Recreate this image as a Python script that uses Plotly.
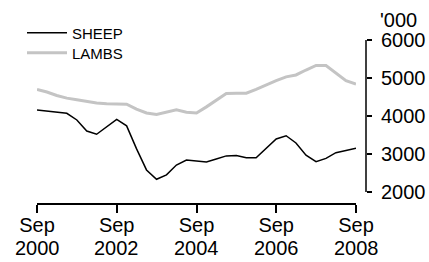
import plotly.graph_objects as go
import pandas as pd

# Quarterly dates, Sep 2000 .. Sep 2008
dates = pd.date_range("2000-09-01", "2008-09-01", freq="3MS")

sheep = [4160, 4130, 4105, 4070, 3895, 3605, 3520, 3710, 3910, 3740,
         3140, 2580, 2335, 2450, 2710, 2840, 2815, 2790, 2870, 2950,
         2960, 2900, 2900, 3150, 3395, 3480, 3290, 2970, 2800, 2885,
         3035, 3090, 3150]
lambs = [4700, 4630, 4540, 4470, 4430, 4380, 4340, 4320, 4310, 4310,
         4180, 4080, 4040, 4100, 4160, 4100, 4080, 4240, 4420, 4590,
         4600, 4600, 4700, 4820, 4930, 5030, 5080, 5210, 5330, 5330,
         5130, 4930, 4840]

tick_dates = ["2000-09-01", "2002-09-01", "2004-09-01", "2006-09-01", "2008-09-01"]
tick_month = ["Sep", "Sep", "Sep", "Sep", "Sep"]
tick_year = ["2000", "2002", "2004", "2006", "2008"]
y_ticks = [2000, 3000, 4000, 5000, 6000]
y_unit = "'000"

FONT = "Liberation Sans, Arial, sans-serif"

fig = go.Figure()
fig.add_trace(go.Scatter(x=dates, y=sheep, name="SHEEP", mode="lines",
                         line=dict(color="black", width=1.5), legend="legend"))
fig.add_trace(go.Scatter(x=dates, y=lambs, name="LAMBS", mode="lines",
                         line=dict(color="#c4c4c4", width=3), legend="legend2"))

L, R, T, B = 37, 63, 40, 59
W = 429 - L - R
H = 262 - T - B

def px_x(p):
    return (p - L) / W

def px_y(p):
    return (262 - B - p) / H

leg_common = dict(xanchor="left", yanchor="middle",
                  font=dict(size=15, family=FONT), bgcolor="rgba(0,0,0,0)",
                  borderwidth=0, itemwidth=40)

fig.update_layout(
    width=429, height=262,
    margin=dict(l=L, r=R, t=T, b=B, autoexpand=False),
    paper_bgcolor="white", plot_bgcolor="white",
    font=dict(family=FONT, color="black", size=20),
    showlegend=True,
    legend=dict(x=px_x(22), y=px_y(33), **leg_common),
    legend2=dict(x=px_x(22), y=px_y(53), **leg_common),
    xaxis=dict(domain=[0, 319 / W], range=[dates[0], dates[-1]],
               tickvals=tick_dates, ticktext=tick_month,
               showline=True, linecolor="black", linewidth=1.5,
               ticks="outside", ticklen=8, tickwidth=1.5, tickcolor="black",
               ticklabelstandoff=-5,
               showgrid=False, zeroline=False, automargin=False,
               tickfont=dict(size=20, family=FONT)),
    yaxis=dict(range=[1710, 6000], side="right", anchor="free", position=1,
               tickvals=y_ticks, ticks="outside", ticklen=5, tickwidth=1.5,
               tickcolor="black", showline=False, showgrid=False, zeroline=False,
               ticklabelstandoff=5,
               automargin=False, tickfont=dict(size=20, family=FONT)),
)
fig.add_shape(type="line", xref="paper", yref="y", x0=1, x1=1,
              y0=y_ticks[0], y1=y_ticks[-1], line=dict(color="black", width=1.5))
for d, yr in zip(tick_dates, tick_year):
    fig.add_annotation(text=yr, xref="x", yref="paper", x=d,
                       y=px_y(248), xanchor="center", yanchor="middle",
                       showarrow=False, font=dict(size=20, family=FONT))
fig.add_annotation(text=y_unit, xref="paper", yref="paper",
                   x=px_x(378), y=px_y(20), xanchor="left",
                   yanchor="middle", showarrow=False,
                   font=dict(size=20, family=FONT))

fig.write_html("out.html", config={"displayModeBar": False},
               post_script="document.body.style.margin='0';")
